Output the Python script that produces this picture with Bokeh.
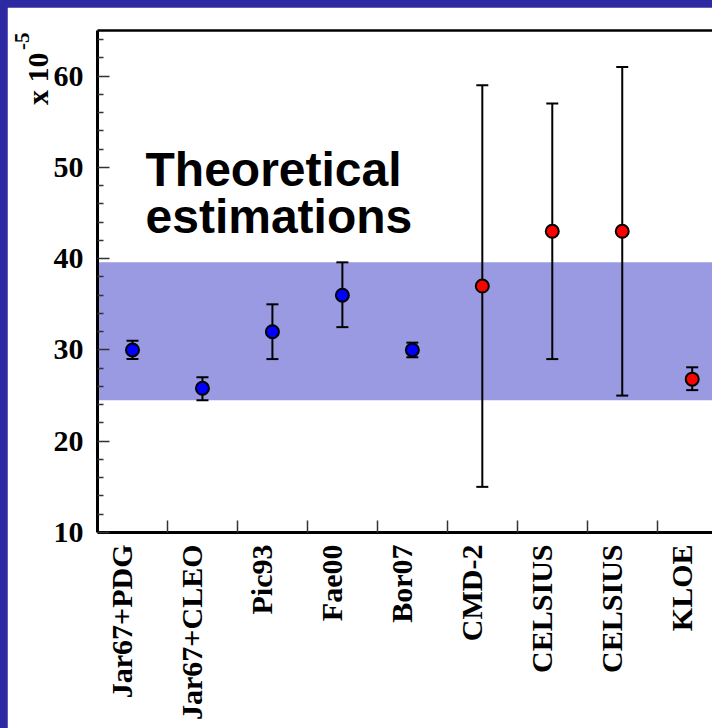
import math
from bokeh.plotting import figure
from bokeh.models import (Range1d, FixedTicker, LinearAxis, BoxAnnotation,
                          ColumnDataSource, Label, Title)
from bokeh.embed import file_html
from bokeh.resources import INLINE

# ---------------- data ----------------
labels = ["Jar67+PDG", "Jar67+CLEO", "Pic93", "Fae00", "Bor07",
          "CMD-2", "CELSIUS", "CELSIUS", "KLOE"]
values = [30.0, 25.8, 32.0, 36.0, 30.0, 37.0, 43.0, 43.0, 26.8]
upper = [31.0, 27.0, 35.0, 39.6, 30.8, 59.0, 57.0, 61.0, 28.1]
lower = [29.0, 24.5, 29.0, 32.5, 29.2, 15.0, 29.0, 25.0, 25.6]
kind = ["theory"] * 5 + ["experiment"] * 4
band_low, band_high = 24.5, 39.6
y_major = [10, 20, 30, 40, 50, 60]
y_minor = [12, 14, 16, 18, 22, 24, 26, 28, 32, 34, 36, 38,
           42, 44, 46, 48, 52, 54, 56, 58, 62, 64]

kind_color = {"theory": "#0000ff", "experiment": "#ff0000"}

xs = [i + 0.5 for i in range(len(labels))]
bounds = [i for i in range(1, len(labels))]
label_shift = 0.16   # category labels sit just left of their point
label_pos = [x - label_shift for x in xs]
src = ColumnDataSource(dict(
    x=xs, v=values, up=upper, lo=lower,
    color=[kind_color[k] for k in kind],
))

SERIF = "Liberation Serif"
SANS = "Liberation Sans"

p = figure(width=705, height=721, output_backend="svg", toolbar_location=None,
           x_range=Range1d(0, 8.79), y_range=Range1d(10, 65),
           min_border_left=90, min_border_right=0, min_border_top=23,
           min_border_bottom=196, x_axis_location=None, y_axis_location=None)
p.background_fill_color = "white"
p.border_fill_color = "white"
p.outline_line_color = None
p.xgrid.visible = False
p.ygrid.visible = False

# band of theoretical estimations
band = BoxAnnotation(bottom=band_low, top=band_high, fill_color="#9a9ae3",
                     fill_alpha=1.0, line_color=None, level="underlay")
p.add_layout(band)

# error bars
p.segment(x0="x", y0="lo", x1="x", y1="up", source=src,
          line_color="black", line_width=2)
p.scatter(x="x", y="up", source=src, marker="dash", size=12,
          line_color="black", line_width=2)
p.scatter(x="x", y="lo", source=src, marker="dash", size=12,
          line_color="black", line_width=2)
# points
p.scatter(x="x", y="v", source=src, marker="circle", size=13,
          fill_color="color", line_color="black", line_width=2)

# axes
yax = LinearAxis(ticker=FixedTicker(ticks=y_major, minor_ticks=y_minor))
yax.axis_line_width = 3
yax.axis_line_color = "black"
yax.major_tick_in = 12
yax.major_tick_out = 0
yax.minor_tick_in = 6
yax.minor_tick_out = 0
yax.major_tick_line_width = 1.5
yax.minor_tick_line_width = 1.5
yax.major_tick_line_color = "#333333"
yax.minor_tick_line_color = "#333333"
yax.major_label_text_font = SERIF
yax.major_label_text_font_style = "bold"
yax.major_label_text_font_size = "30px"
yax.major_label_text_color = "black"
yax.major_label_standoff = 14
p.add_layout(yax, "left")

# unit label  x 10^-5 (stacked titles on the left, aligned to the top)
p.add_layout(Title(text="x 10", align="right", offset=22, standoff=-6,
                   text_font=SERIF, text_font_style="bold",
                   text_font_size="30px", text_color="black"), "left")
p.add_layout(Title(text="-5", align="right", offset=2, standoff=-14,
                   text_font=SERIF, text_font_style="bold",
                   text_font_size="21px", text_color="black"), "left")

xax = LinearAxis(ticker=FixedTicker(ticks=label_pos, minor_ticks=bounds))
xax.major_label_overrides = {x: lab for x, lab in zip(label_pos, labels)}
xax.axis_line_width = 3
xax.axis_line_color = "black"
xax.major_tick_in = 0
xax.major_tick_out = 0
xax.minor_tick_in = 12
xax.minor_tick_out = 0
xax.minor_tick_line_width = 1.5
xax.minor_tick_line_color = "#333333"
xax.major_label_orientation = math.pi / 2
xax.major_label_text_font = SERIF
xax.major_label_text_font_style = "bold"
xax.major_label_text_font_size = "30px"
xax.major_label_text_color = "black"
xax.major_label_standoff = 12
p.add_layout(xax, "below")

top_ax = LinearAxis(ticker=FixedTicker(ticks=[]))
top_ax.axis_line_width = 2.5
top_ax.axis_line_color = "black"
top_ax.major_tick_in = 0
top_ax.major_tick_out = 0
top_ax.minor_tick_in = 0
top_ax.minor_tick_out = 0
top_ax.major_label_text_font_size = "0px"
p.add_layout(top_ax, "above")

# annotation text
p.add_layout(Label(x=0, y=47.8, x_offset=48, y_offset=18, text="Theoretical",
                   text_font=SANS, text_font_style="bold",
                   text_font_size="48px", text_color="black",
                   text_baseline="alphabetic"))
p.add_layout(Label(x=0, y=42.6, x_offset=48, y_offset=18, text="estimations",
                   text_font=SANS, text_font_style="bold",
                   text_font_size="48px", text_color="black",
                   text_baseline="alphabetic"))

html = file_html(p, INLINE)
style = ("<style>html, body {margin:0; padding:0;} "
         "body {padding:7px 0 0 7px; background:#2c29a3;}</style>")
html = html.replace("</head>", style + "</head>", 1)
open("out.html", "w").write(html)
